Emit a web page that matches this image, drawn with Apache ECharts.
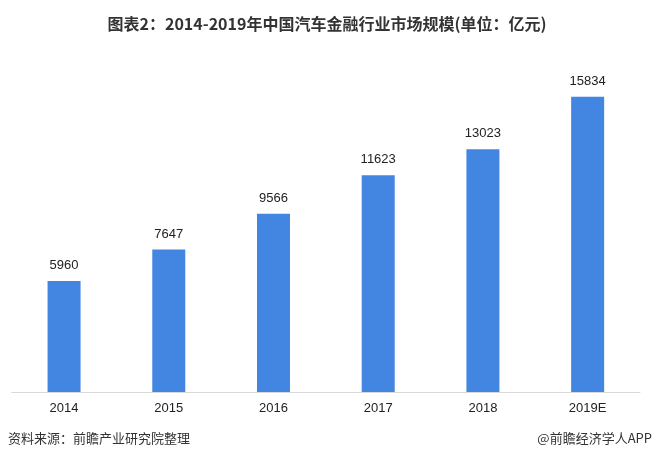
<!DOCTYPE html>
<html><head><meta charset="utf-8">
<script src="https://cdn.jsdelivr.net/npm/echarts@6/dist/echarts.min.js"></script>
<style>html,body{margin:0;padding:0;background:#fff}#c{width:654px;height:460px}</style>
</head><body><div id="c"></div>
<script>
const categories = ['2014','2015','2016','2017','2018','2019E'];
const values = [5960, 7647, 9566, 11623, 13023, 15834];
const titleText = '图表2：2014-2019年中国汽车金融行业市场规模(单位：亿元)';
const sourceText = '资料来源：前瞻产业研究院整理';
const brandText = '@前瞻经济学人APP';

const chart = echarts.init(document.getElementById('c'), null, {renderer:'canvas'});
chart.setOption({
  animation:false,
  backgroundColor:'#fff',
  title:{text:titleText,left:'center',top:11,textStyle:{fontFamily:'Noto Sans CJK SC',fontWeight:'bold',fontSize:16,color:'#333'}},
  grid:{left:11.7,right:14,top:56.5,bottom:68,containLabel:false},
  xAxis:{type:'category',data:categories,
    axisLine:{lineStyle:{color:'#d9d9d9',width:1}},axisTick:{show:false},
    axisLabel:{color:'#222',fontSize:13,margin:10,fontFamily:'Arial, Liberation Sans'}},
  yAxis:{type:'value',min:0,max:18000,show:false,splitLine:{show:false}},
  series:[{type:'bar',data:values,barWidth:33,itemStyle:{color:'#4286e2'},
    label:{show:true,position:'top',distance:9,color:'#222',fontSize:13,fontFamily:'Arial, Liberation Sans'}}],
  graphic:[
    {type:'text',left:8,top:432,style:{text:sourceText,fontSize:13,fill:'#333',fontFamily:'Noto Sans CJK SC'}},
    {type:'text',right:2,top:432,style:{text:brandText,fontSize:13,fill:'#333',fontFamily:'Noto Sans CJK SC'}}
  ]
});
</script></body></html>
